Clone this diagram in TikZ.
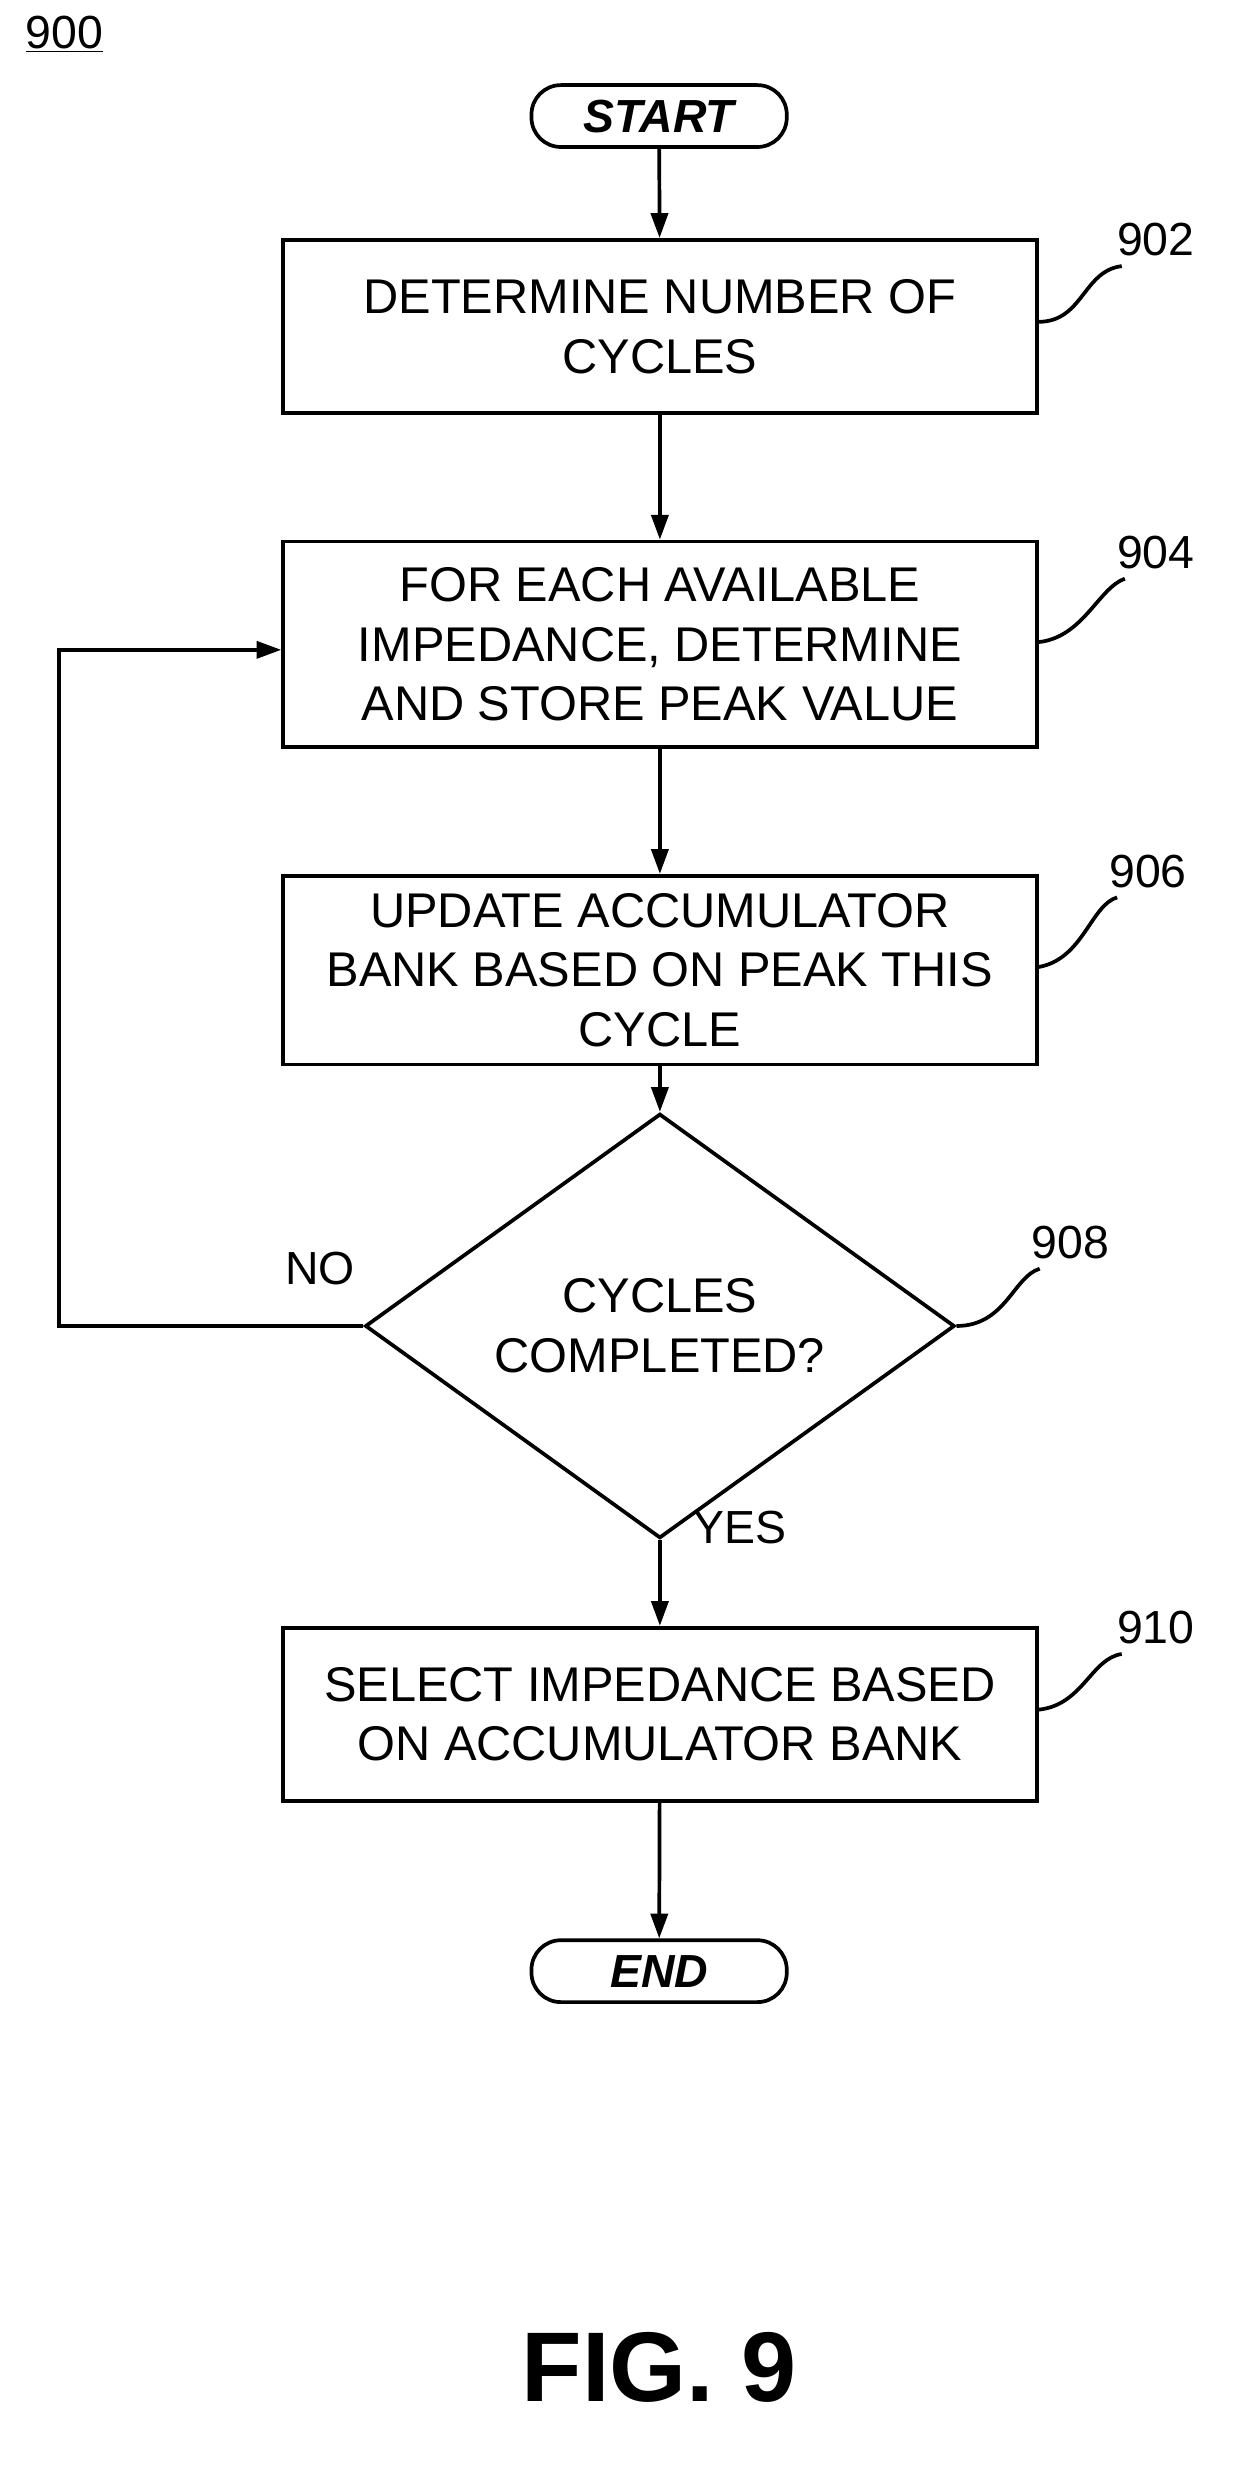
\documentclass[tikz,border=0pt]{standalone}
\usepackage{fontspec}
\setmainfont{Liberation Sans}
\usetikzlibrary{shapes.geometric,arrows.meta}
\begin{document}
\begin{tikzpicture}[x=1pt,y=-1pt,line width=2.4pt,
  box/.style={draw,minimum width=487pt,align=center,font=\fontsize{31.5}{38.5}\selectfont},
  term/.style={draw,rounded corners=19pt,minimum width=165pt,minimum height=40pt,inner sep=0pt,font=\fontsize{30}{34}\selectfont\bfseries\itshape},
  arr/.style={-{Triangle[length=16pt,width=11pt]}},
  lab/.style={font=\fontsize{30}{37}\selectfont},
  lead/.style={line width=2.4pt}]
\useasboundingbox (0,0) rectangle (800,1599);
\node[lab,anchor=west] (n900) at (12,22) {\underline{900}};
\node[term] (start) at (426,75) {START};
\node[box,minimum height=112pt] (b902) at (426.5,211) {DETERMINE NUMBER OF\\CYCLES};
\node[box,minimum height=133pt] (b904) at (426.5,416.5) {FOR EACH AVAILABLE\\IMPEDANCE, DETERMINE\\AND STORE PEAK VALUE};
\node[box,minimum height=122pt] (b906) at (426.5,627) {UPDATE ACCUMULATOR\\BANK BASED ON PEAK THIS\\CYCLE};
\node[draw,diamond,minimum width=381pt,minimum height=180pt,inner sep=0pt,align=center,font=\fontsize{31.5}{38.5}\selectfont] (d908) at (426.5,857) {CYCLES\\COMPLETED?};
\node[box,minimum height=112pt] (b910) at (426.5,1108) {SELECT IMPEDANCE BASED\\ON ACCUMULATOR BANK};
\node[term] (end) at (426,1274) {END};
\node[font=\fontsize{64}{72}\selectfont\bfseries] (fig) at (426,1530) {FIG. 9};
\draw[arr] (start) -- (b902);
\draw[arr] (b902) -- (b904);
\draw[arr] (b904) -- (b906);
\draw[arr] (b906) -- (d908);
\draw[arr] (d908) -- (b910);
\draw[arr] (b910) -- (end);
\coordinate (lx) at (38,857);
\draw[arr] (d908.west) -- (lx) |- (b904.west|-0,420);
\node[lab] (no) at (207,820) {NO};
\node[lab] (yes) at (478,987) {YES};
\node[lab] (l902) at (747,155) {902};
\node[lab] (l904) at (747,357) {904};
\node[lab] (l906) at (742,563) {906};
\node[lab] (l908) at (692,803) {908};
\node[lab] (l910) at (747,1052) {910};
\draw[lead] (b902.east|-0,208) .. controls (700,208) and (700,175) .. (725,172);
\draw[lead] (b904.east|-0,415) .. controls (700,412) and (710,380) .. (727,374);
\draw[lead] (b906.east|-0,625) .. controls (700,620) and (705,585) .. (722,580);
\draw[lead] (d908.east) .. controls (650,857) and (655,825) .. (672,820);
\draw[lead] (b910.east|-0,1105) .. controls (700,1102) and (705,1072) .. (725,1069);
\end{tikzpicture}
\end{document}
